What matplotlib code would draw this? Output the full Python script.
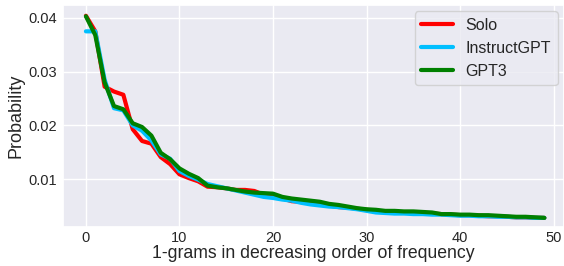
import numpy as np
import matplotlib
matplotlib.use("Agg")
import matplotlib.pyplot as plt
import seaborn as sns

# Probability of each 1-gram, ranked by frequency
solo = [0.0404, 0.0375, 0.0272, 0.0263, 0.0257, 0.0193, 0.0171, 0.0166, 0.0141, 0.0128,
        0.0109, 0.0102, 0.0096, 0.0086, 0.0085, 0.0083, 0.0080, 0.0080, 0.0078, 0.0071,
        0.0068, 0.0064, 0.0059, 0.0058, 0.0055, 0.0054, 0.0051, 0.0048, 0.0047, 0.0045,
        0.0043, 0.0041, 0.0040, 0.0039, 0.0038, 0.0037, 0.0036, 0.0036, 0.0035, 0.0034,
        0.0033, 0.0033, 0.0032, 0.0031, 0.0031, 0.0030, 0.0029, 0.0029, 0.0028, 0.0028]
instruct_gpt = [0.0375, 0.0375, 0.0285, 0.0232, 0.0228, 0.0200, 0.0190, 0.0172, 0.0146, 0.0138,
                0.0115, 0.0106, 0.0099, 0.0091, 0.0087, 0.0083, 0.0079, 0.0075, 0.0071, 0.0067,
                0.0065, 0.0062, 0.0060, 0.0056, 0.0053, 0.0051, 0.0049, 0.0048, 0.0046, 0.0044,
                0.0041, 0.0038, 0.0037, 0.0036, 0.0036, 0.0035, 0.0035, 0.0034, 0.0034, 0.0033,
                0.0032, 0.0032, 0.0031, 0.0031, 0.0030, 0.0030, 0.0029, 0.0029, 0.0028, 0.0028]
gpt3 = [0.0403, 0.0368, 0.0280, 0.0236, 0.0230, 0.0204, 0.0197, 0.0181, 0.0149, 0.0137,
        0.0120, 0.0110, 0.0102, 0.0088, 0.0085, 0.0083, 0.0080, 0.0077, 0.0075, 0.0074,
        0.0073, 0.0067, 0.0064, 0.0062, 0.0060, 0.0058, 0.0054, 0.0052, 0.0049, 0.0046,
        0.0044, 0.0043, 0.0041, 0.0041, 0.0040, 0.0040, 0.0039, 0.0038, 0.0035, 0.0035,
        0.0034, 0.0034, 0.0033, 0.0033, 0.0032, 0.0031, 0.0030, 0.0030, 0.0029, 0.0028]

sns.set_theme(style="darkgrid")
plt.rcParams["font.family"] = ["Liberation Sans", "DejaVu Sans"]

fig = plt.figure(figsize=(5.64, 2.66), dpi=100)
ax = fig.add_axes([63 / 564, 39 / 266, (564 - 63) / 564, 222 / 266])

ranks = np.arange(len(solo))
ax.plot(ranks, solo, color="red", lw=3, label="Solo")
ax.plot(ranks, instruct_gpt, color="deepskyblue", lw=3, label="InstructGPT")
ax.plot(ranks, gpt3, color="green", lw=3, label="GPT3")

ax.set_xlim(-2.45, 51.1)
ax.set_ylim(0.0011, 0.0424)
ax.set_xticks([0, 10, 20, 30, 40, 50])
ax.set_yticks([0.01, 0.02, 0.03, 0.04])
ax.tick_params(labelsize=10.5, length=0, pad=3)
ax.tick_params(axis="y", pad=4)
ax.set_xlabel("1-grams in decreasing order of frequency", fontsize=12.7, labelpad=0)
ax.set_ylabel("Probability", fontsize=13, labelpad=3)
ax.legend(loc="upper right", fontsize=11.5, borderaxespad=0.4)

fig.savefig("out.png", dpi=100)
